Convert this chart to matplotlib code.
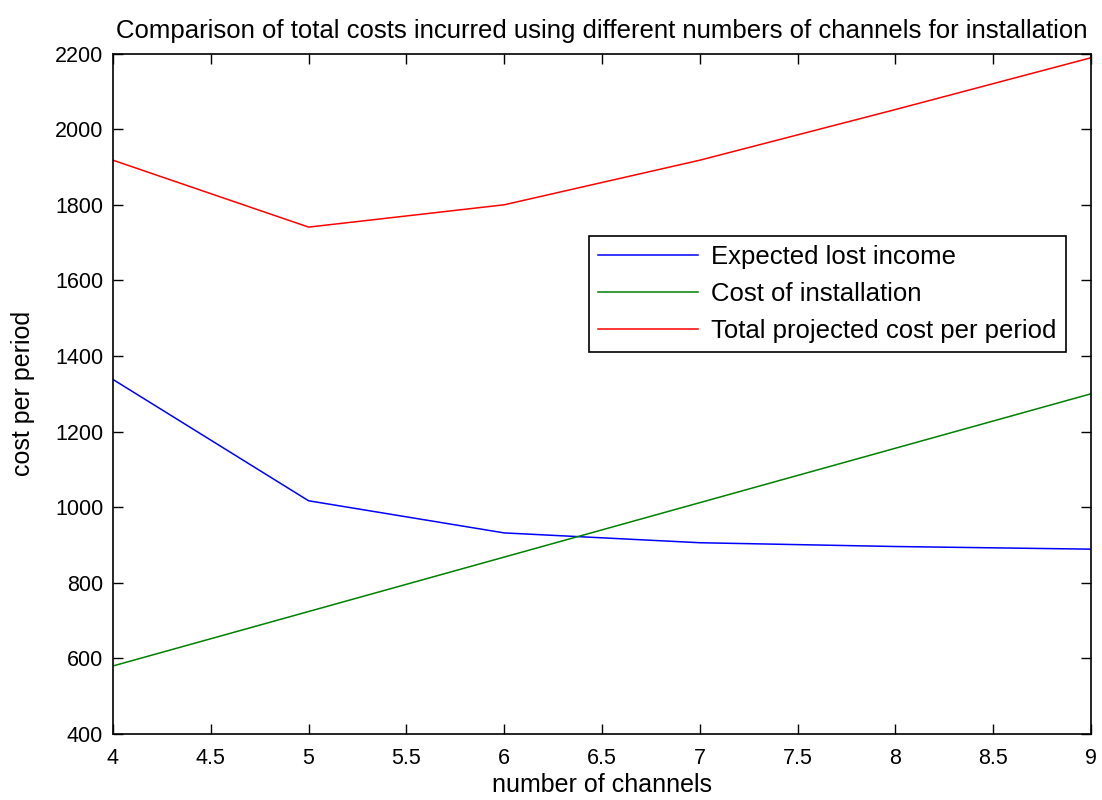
import matplotlib
matplotlib.use('Agg')
import matplotlib.pyplot as plt
import numpy as np

# number of channels installed
channels = [4, 5, 6, 7, 8, 9]
# expected lost income per period
lost_income = [1338, 1017, 932, 906, 896, 889]
# cost of installation per period
install_cost = [580, 724, 868, 1012, 1156, 1300]
# total = lost income + installation
total_cost = [a + b for a, b in zip(lost_income, install_cost)]

xticks = [4, 4.5, 5, 5.5, 6, 6.5, 7, 7.5, 8, 8.5, 9]
xticklabels = ['4', '4.5', '5', '5.5', '6', '6.5', '7', '7.5', '8', '8.5', '9']
yticks = [400, 600, 800, 1000, 1200, 1400, 1600, 1800, 2000, 2200]

plt.rcParams['font.family'] = ['Liberation Sans', 'DejaVu Sans']

fig = plt.figure(figsize=(11.02, 8), dpi=100)
ax = fig.add_axes([0.1025, 0.0825, 0.8875, 0.8505])

ax.plot(channels, lost_income, color=(0, 0, 1), lw=1.1, label='Expected lost income')
ax.plot(channels, install_cost, color=(0, 0.5, 0), lw=1.1, label='Cost of installation')
ax.plot(channels, total_cost, color=(1, 0, 0), lw=1.1, label='Total projected cost per period')

ax.set_xlim(4, 9)
ax.set_ylim(400, 2200)
ax.set_xticks(xticks)
ax.set_xticklabels(xticklabels)
ax.set_yticks(yticks)
ax.tick_params(direction='in', length=7, width=1, top=True, right=True,
               labelsize=15.5)
ax.tick_params(axis='y', pad=7)
ax.tick_params(axis='x', pad=10)
for s in ax.spines.values():
    s.set_linewidth(1.2)

ax.set_title('Comparison of total costs incurred using different numbers of channels for installation',
             fontsize=18.5, pad=11)
ax.set_xlabel('number of channels', fontsize=18, labelpad=3)
ax.set_ylabel('cost per period', fontsize=18, labelpad=14)

leg = ax.legend(loc='upper right', bbox_to_anchor=(0.974, 0.732), fontsize=18.5,
                fancybox=False, shadow=False, framealpha=1, edgecolor='black',
                handlelength=3.9, handletextpad=0.5, borderpad=0.35,
                labelspacing=0.5, borderaxespad=0)
leg.get_frame().set_linewidth(1.2)

fig.savefig('out.png', dpi=100)
